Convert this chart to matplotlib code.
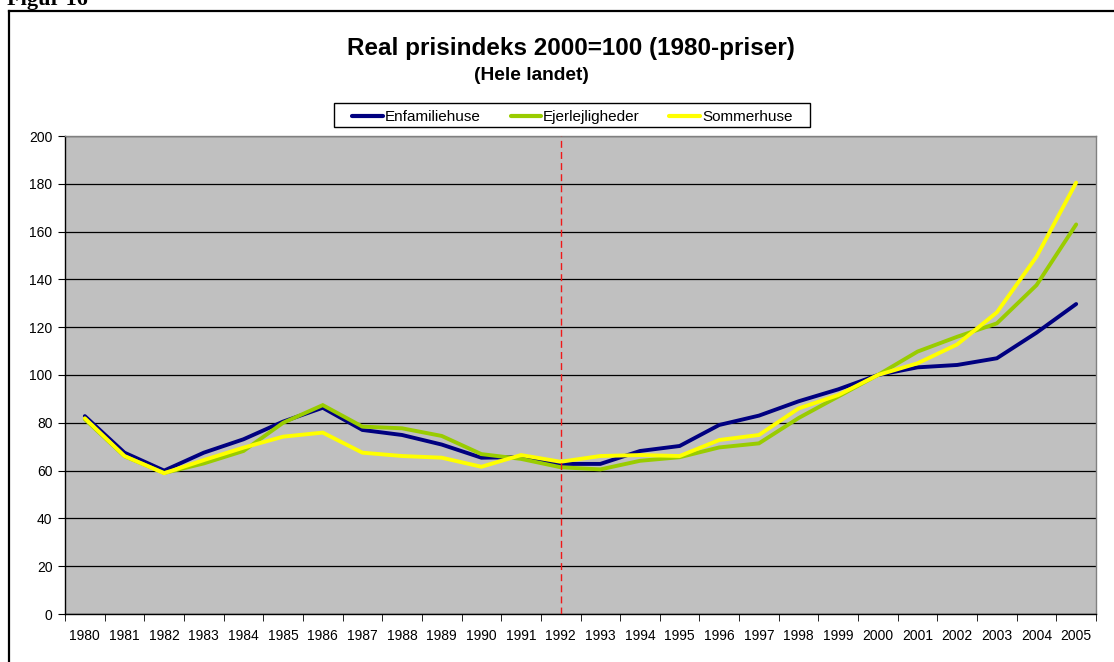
import matplotlib
matplotlib.use("Agg")
import matplotlib.pyplot as plt
from matplotlib.patches import Rectangle
from matplotlib.lines import Line2D
import numpy as np

plt.rcParams['font.family'] = ['Liberation Sans', 'DejaVu Sans']

years = [str(y) for y in range(1980, 2006)]
enfamiliehuse = [82.8, 67.5, 60.0, 67.5, 73.1, 80.5, 86.3, 77.0, 74.9, 70.9, 65.4, 65.6,
                 62.8, 62.8, 68.2, 70.3, 79.1, 83.0, 89.0, 94.0, 100.0, 103.2, 104.2, 107.0, 117.7, 129.7]
ejerlejligheder = [81.5, 66.0, 59.0, 63.0, 68.2, 80.0, 87.4, 78.4, 77.7, 74.5, 66.9, 64.9,
                   61.4, 60.5, 64.1, 65.6, 69.7, 71.4, 82.0, 91.0, 100.0, 109.8, 116.0, 121.6, 137.6, 163.0]
sommerhuse = [81.9, 66.1, 58.9, 64.4, 69.6, 74.2, 75.9, 67.5, 66.1, 65.4, 61.6, 66.5,
              63.7, 66.1, 66.5, 66.1, 72.8, 74.9, 86.0, 91.6, 100.0, 104.9, 112.8, 126.2, 149.5, 180.5]
series_names = ["Enfamiliehuse", "Ejerlejligheder", "Sommerhuse"]
series_colors = ["#000080", "#99CC00", "#FFFF00"]
marker_year = "1992"
yticks = list(range(0, 201, 20))

W, H = 1114, 662
fig = plt.figure(figsize=(W / 100, H / 100), dpi=100)

def fx(px):
    return px / W

def fy(py):
    return 1 - py / H

# outer frame (left & top visible)
fig.add_artist(Line2D([fx(9), fx(9)], [0, fy(11)], transform=fig.transFigure,
                      color='black', lw=1.6))
fig.add_artist(Line2D([fx(9), 1.0], [fy(11), fy(11)], transform=fig.transFigure,
                      color='black', lw=1.6))
fig.text(fx(7), fy(5), "Figur 16", family=['Liberation Serif', 'DejaVu Serif'],
         fontsize=16, fontweight='bold', ha='left', va='baseline')

ax = fig.add_axes([fx(65), 48 / H, (1096 - 65) / W, (614 - 136) / H])
ax.set_facecolor('#C0C0C0')
x = np.arange(len(years))
for vals, name, col in zip([enfamiliehuse, ejerlejligheder, sommerhuse], series_names, series_colors):
    ax.plot(x, vals, color=col, lw=2.8, label=name, solid_joinstyle='miter',
            solid_capstyle='round', zorder=3)

ax.axvline(years.index(marker_year), color='#F01818', lw=1.0, ls=(0, (5, 3)), zorder=4)

ax.set_xlim(-0.5, len(years) - 0.5)
ax.set_ylim(0, 200)
ax.set_yticks(yticks)
ax.set_yticklabels([str(v) for v in yticks], fontsize=10)
ax.yaxis.grid(True, color='black', lw=0.9)
ax.set_axisbelow(True)
ax.set_xticks(x)
ax.set_xticklabels(years, fontsize=10)
ax.set_xticks(np.arange(-0.5, len(years), 1.0), minor=True)
ax.tick_params(axis='x', which='major', length=0, pad=11)
ax.tick_params(axis='x', which='minor', length=5, direction='out', color='black')
ax.tick_params(axis='y', length=5, direction='out', pad=4, color='black')
for s in ['top', 'right']:
    ax.spines[s].set_color('#808080')
    ax.spines[s].set_linewidth(1.0)
for s in ['left', 'bottom']:
    ax.spines[s].set_color('black')
    ax.spines[s].set_linewidth(1.0)

fig.text(fx(571), fy(48), "Real prisindeks 2000=100 (1980-priser)", fontsize=17.5,
         fontweight='bold', ha='center', va='center')
fig.text(fx(531), fy(76), "(Hele landet)", fontsize=13.8,
         fontweight='bold', ha='center', va='center')

# legend box drawn manually
fig.add_artist(Rectangle((fx(334), fy(127)), fx(810) - fx(334), fy(103) - fy(127),
                         transform=fig.transFigure, facecolor='white', edgecolor='black',
                         lw=1.0, zorder=5))
leg_line_x = [(352, 383), (511, 541), (669, 700)]
leg_y = 115.5
for (x0, x1), name, col in zip(leg_line_x, series_names, series_colors):
    fig.add_artist(Line2D([fx(x0), fx(x1)], [fy(leg_y), fy(leg_y)], transform=fig.transFigure,
                          color=col, lw=3.0, solid_capstyle='round', zorder=6))
    fig.text(fx(x1 + 2), fy(leg_y), name, fontsize=11, ha='left', va='center_baseline',
             zorder=6)

fig.savefig("out.png", dpi=100)
